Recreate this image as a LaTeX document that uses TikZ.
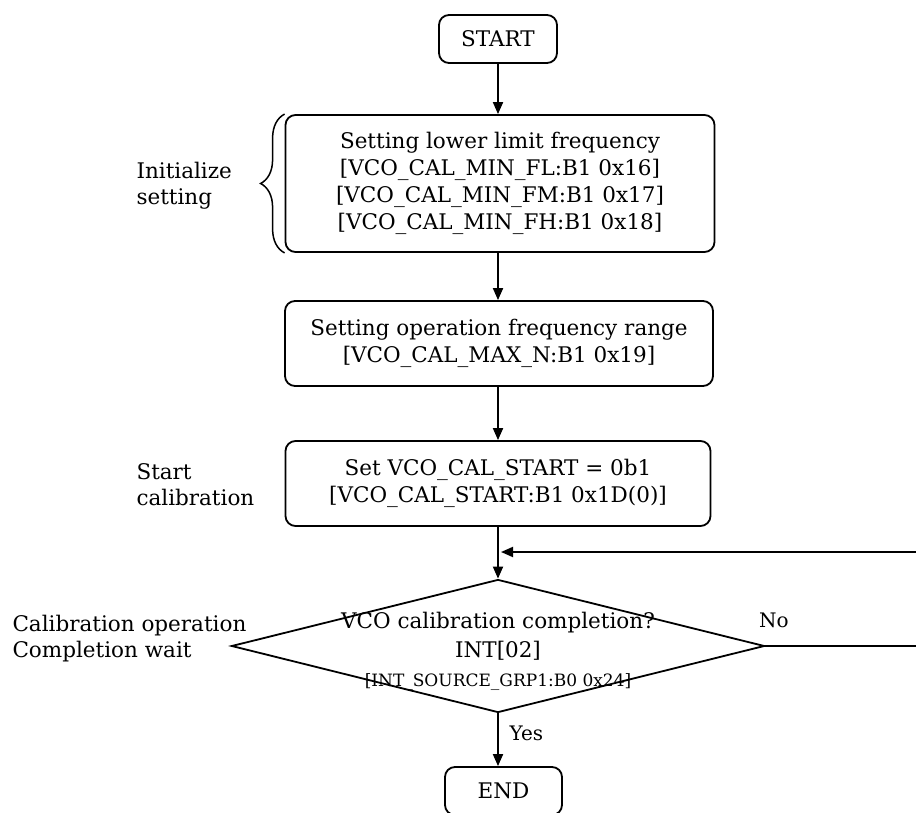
\documentclass[tikz,border=0pt]{standalone}
\usepackage{fontspec}
\setmainfont{DejaVu Serif}
\usetikzlibrary{shapes.geometric, arrows.meta, positioning, decorations.pathreplacing}

\begin{document}
\begin{tikzpicture}[x=1pt, y=-1pt,
  box/.style={draw, line width=1.8pt, rounded corners=10pt, align=center,
    inner sep=0pt, font=\fontsize{21.5}{27}\selectfont},
  decision/.style={draw, line width=1.8pt, diamond, inner sep=0pt},
  flow/.style={line width=1.8pt, -{Triangle[length=12pt,width=10pt]}},
  side/.style={align=left, anchor=west, font=\fontsize{21.5}{26}\selectfont}]

% Page frame
\useasboundingbox (0,0) rectangle (916,813);

% Steps
\node[box, minimum width=118pt, minimum height=48pt] (start) at (498,39) {START};
\node[box, minimum width=429pt, minimum height=137pt] (lowlim) at (500,183.5)
  {Setting lower limit frequency\\
   {[VCO\_CAL\_MIN\_FL:B1 0x16]}\\
   {[VCO\_CAL\_MIN\_FM:B1 0x17]}\\
   {[VCO\_CAL\_MIN\_FH:B1 0x18]}};
\node[box, minimum width=428pt, minimum height=85pt] (oprange) at (499,343.5)
  {Setting operation frequency range\\
   {[VCO\_CAL\_MAX\_N:B1 0x19]}};
\node[box, minimum width=425pt, minimum height=85pt] (calstart) at (498,483.5)
  {Set VCO\_CAL\_START = 0b1\\
   {[VCO\_CAL\_START:B1 0x1D(0)]}};

% Decision
\node[decision, minimum width=533pt, minimum height=133pt] (done) at (498,646) {};
\node[align=center, inner sep=0pt, font=\fontsize{21.5}{29}\selectfont] (donetext) at (498,651)
  {VCO calibration completion?\\
   INT[02]\\
   {\fontsize{17}{21}\selectfont [INT\_SOURCE\_GRP1:B0 0x24]}};

\node[box, minimum width=117pt, minimum height=48pt] (finish) at (503.5,791) {END};

% Connectors
\draw[flow] (start.south) -- (start.south |- lowlim.north);
\draw[flow] (start.south |- lowlim.south) -- (start.south |- oprange.north);
\draw[flow] (start.south |- oprange.south) -- (start.south |- calstart.north);
\draw[flow] (calstart.south) -- (calstart.south |- done.north);
\draw[flow] (done.south) -- (done.south |- finish.north);
\node[anchor=west, font=\fontsize{20}{22}\selectfont] (yes) at (506,733) {Yes};

% Retry loop
\coordinate (retR) at (940,552);
\coordinate (join) at (501,552);
\draw[flow] (done.east) -- (done.east -| retR) -- (retR) -- (join);
\node[font=\fontsize{20}{22}\selectfont] (no) at (774,620) {No};

% Brace
\draw[line width=1.5pt, decorate, decoration={brace, amplitude=24pt}]
  (lowlim.south west) -- (lowlim.north west);

% Side labels
\node[side] (init) at (133,186) {Initialize\\setting};
\node[side] (startcal) at (133,485) {Start\\calibration};
\node[side] (wait) at (9,639) {Calibration operation\\Completion wait};

\end{tikzpicture}
\end{document}
